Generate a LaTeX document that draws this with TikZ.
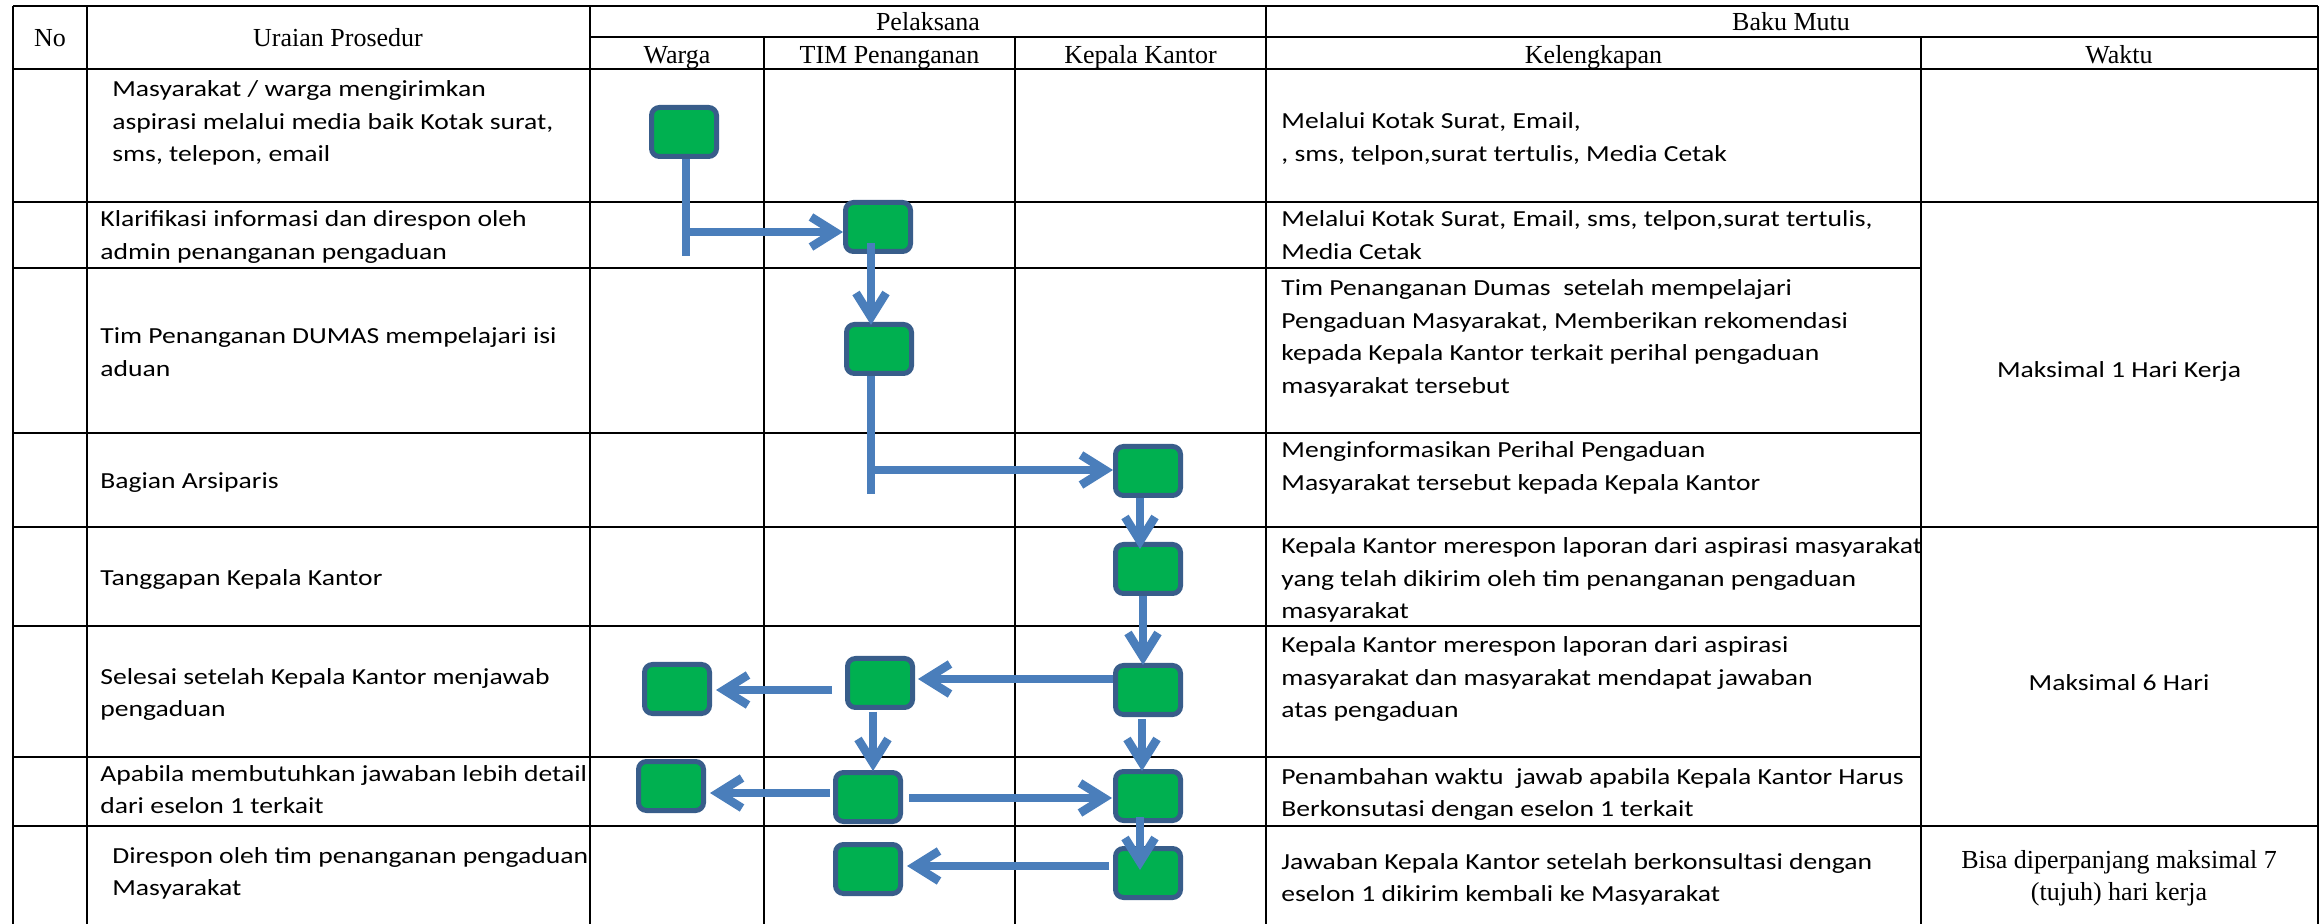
\documentclass[tikz,border=0pt]{standalone}
\usepackage{fontspec}
\setmainfont{Liberation Serif}
\newfontfamily\bodyfont{Carlito}[FakeStretch=1.2]
\usetikzlibrary{arrows.meta,calc}
\definecolor{boxfill}{HTML}{00B050}
\definecolor{boxline}{HTML}{385D8A}
\definecolor{flowc}{HTML}{4A7EBB}
\tikzset{
  stepbox/.style={draw=boxline, fill=boxfill, line width=2.5pt, rounded corners=4pt,
    minimum width=32.5pt, minimum height=24.5pt, inner sep=0pt},
  flow/.style={draw=flowc, line width=4.25pt, -{Straight Barb[length=12pt,width=15pt]}},
  flowline/.style={draw=flowc, line width=4.25pt},
  hdr/.style={font=\fontsize{13}{15}\selectfont, inner sep=0pt, anchor=base},
  body/.style={font=\bodyfont\fontsize{11.5}{16.25}\selectfont, align=left, inner sep=0pt, anchor=base west},
  waktu/.style={font=\bodyfont\fontsize{11.5}{16.25}\selectfont, inner sep=0pt, anchor=base},
  tline/.style={line width=1.3pt},
  vline/.style={line width=1pt}
}
\begin{document}
\begin{tikzpicture}[x=0.5pt,y=-0.5pt]
\fill[white] (0,0) rectangle (2319,924);
\useasboundingbox (0,0) rectangle (2319,924);

% ---- table grid ----
\draw[tline] (13,6) -- (2317.5,6);
\draw[tline] (590,37) -- (2317.5,37);
\foreach \y in {69,202,527,826} \draw[tline] (13,\y) -- (2317.5,\y);
\foreach \y in {268,433,626,757} \draw[tline] (13,\y) -- (1921,\y);
\foreach \x in {13,87,590,1266,2317.5} \draw[vline] (\x,6) -- (\x,924);
\foreach \x in {764,1015,1921} \draw[vline] (\x,37) -- (\x,924);

% ---- header ----
\node[hdr] (hNo) at (50,47) {No};
\node[hdr] (hUr) at (338,47) {Uraian Prosedur};
\node[hdr] (hPel) at (928,31) {Pelaksana};
\node[hdr] (hBaku) at (1791,31) {Baku Mutu};
\node[hdr] (hWarga) at (677,64) {Warga};
\node[hdr] (hTim) at (889.5,64) {TIM Penanganan};
\node[hdr] (hKep) at (1140.5,64) {Kepala Kantor};
\node[hdr] (hKel) at (1593.5,64) {Kelengkapan};
\node[hdr] (hWak) at (2119,64) {Waktu};

% ---- uraian prosedur (anchored at last line's baseline) ----
\node[body] (u1) at (112,162) {Masyarakat / warga mengirimkan\\aspirasi melalui media baik Kotak surat,\\sms, telepon, email};
\node[body] (u2) at (100,259.5) {Klarifikasi informasi dan direspon oleh\\admin penanganan pengaduan};
\node[body] (u3) at (100,376.5) {Tim Penanganan DUMAS mempelajari isi\\aduan};
\node[body] (u4) at (100,489) {Bagian Arsiparis};
\node[body] (u5) at (100,586) {Tanggapan Kepala Kantor};
\node[body] (u6) at (100,716.5) {Selesai setelah Kepala Kantor menjawab\\pengaduan};
\node[body] (u7) at (100,813.5) {Apabila membutuhkan jawaban lebih detail\\dari eselon 1 terkait};
\node[body] (u8) at (112,895.5) {Direspon oleh tim penanganan pengaduan\\Masyarakat};

% ---- kelengkapan ----
\node[body] (k1) at (1281,161.5) {Melalui Kotak Surat, Email,\\, sms, telpon,surat tertulis, Media Cetak};
\node[body] (k2) at (1281,259.5) {Melalui Kotak Surat, Email, sms, telpon,surat tertulis,\\Media Cetak};
\node[body] (k3) at (1281,393.5) {Tim Penanganan Dumas~ setelah mempelajari\\Pengaduan Masyarakat, Memberikan rekomendasi\\kepada Kepala Kantor terkait perihal pengaduan\\masyarakat tersebut};
\node[body] (k4) at (1281,490.5) {Menginformasikan Perihal Pengaduan\\Masyarakat tersebut kepada Kepala Kantor};
\node[body] (k5) at (1281,619) {Kepala Kantor merespon laporan dari aspirasi masyarakat\\yang telah dikirim oleh tim penanganan pengaduan\\masyarakat};
\node[body] (k6) at (1281,718) {Kepala Kantor merespon laporan dari aspirasi\\masyarakat dan masyarakat mendapat jawaban\\atas pengaduan};
\node[body] (k7) at (1281,816.5) {Penambahan waktu~ jawab apabila Kepala Kantor Harus\\Berkonsutasi dengan eselon 1 terkait};
\node[body] (k8) at (1281,901.5) {Jawaban Kepala Kantor setelah berkonsultasi dengan\\eselon 1 dikirim kembali ke Masyarakat};

% ---- waktu ----
\node[waktu] (w1) at (2119,378) {Maksimal 1 Hari Kerja};
\node[waktu] (w2) at (2119,690) {Maksimal 6 Hari};
\node[font=\fontsize{13}{16}\selectfont, align=center, inner sep=0pt, anchor=base] (w3) at (2119,900) {Bisa diperpanjang maksimal 7\\(tujuh) hari kerja};

% ---- flow boxes ----
\node[stepbox] (b1) at (684,132) {};
\node[stepbox] (b2) at (878,227) {};
\node[stepbox] (b3) at (879,349) {};
\node[stepbox] (b4) at (1148,471) {};
\node[stepbox] (b5) at (1148,569) {};
\node[stepbox] (b6) at (1148,690) {};
\node[stepbox] (b7) at (880,683) {};
\node[stepbox] (b8) at (677,689) {};
\node[stepbox] (b9) at (671,786) {};
\node[stepbox] (b10) at (868,797) {};
\node[stepbox] (b11) at (1148,796) {};
\node[stepbox] (b12) at (1148,873) {};
\node[stepbox] (b13) at (868,869) {};

% ---- connectors ----
\coordinate (j1) at (686,232);
\coordinate (e1) at (686,256);
\draw[flowline] (b1.south -| e1) -- (e1);
\draw[flow] (j1) -- (j1 -| b2.west);

\draw[flow] ($(b2.center)+(-7,16)$) -- ($(b3.north)+(-8,3)$);

\coordinate (j3) at (871,470);
\coordinate (e3) at (871,494);
\draw[flowline] (b3.south -| e3) -- (e3);
\draw[flow] (j3) -- (j3 -| b4.west);

\draw[flow] ($(b4.south)+(-8,0)$) -- ($(b5.north)+(-8,7)$);
\draw[flow] ($(b5.south)+(-5,0)$) -- ($(b6.north)+(-5,2)$);
\draw[flow] ($(b6.west)+(0,-11)$) -- ($(b7.east)+(3,-4)$);
\draw[flow] ($(b7.west)+(-13,7)$) -- ($(b8.east)+(4,1)$);
\draw[flow] ($(b7.south)+(-7,2)$) -- ($(b10.north)+(5,1)$);
\draw[flow] ($(b6.south)+(-6,2)$) -- ($(b11.north)+(-6,2)$);
\draw[flow] ($(b10.west)+(-3,-4)$) -- ($(b9.east)+(4,7)$);
\draw[flow] ($(b10.east)+(6,1)$) -- ($(b11.west)+(-1,2)$);
\draw[flow] ($(b11.south)+(-8,-6)$) -- ($(b12.center)+(-8,-3)$);
\draw[flow] ($(b12.west)+(-4,-7)$) -- ($(b13.east)+(4,-3)$);
\end{tikzpicture}
\end{document}
